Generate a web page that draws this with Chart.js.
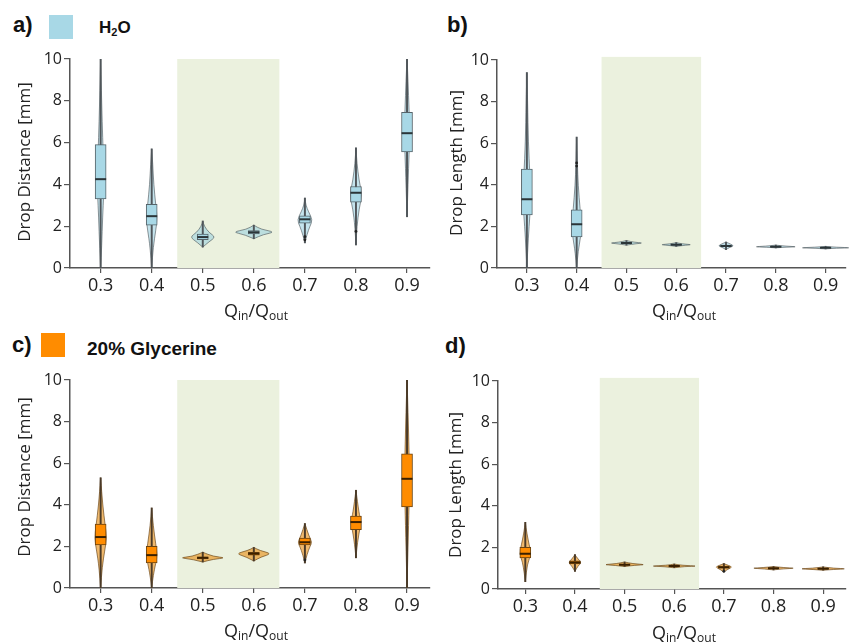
<!DOCTYPE html>
<html>
<head>
<meta charset="utf-8">
<script src="https://cdn.jsdelivr.net/npm/chart.js@4.4.1/dist/chart.umd.min.js"></script>
<style>
  body { margin: 0; background: #fff; }
  #wrap { position: relative; width: 853px; height: 644px; overflow: hidden; font-family: "Open Sans", sans-serif; color: #222; }
  canvas { position: absolute; }
  .lbl { position: absolute; font-family: "Liberation Sans", Arial, sans-serif; font-weight: bold; line-height: 1; white-space: nowrap; color: #111; }
  .swatch { position: absolute; width: 24px; height: 24px; }
  .ytitle { position: absolute; font-size: 17px; line-height: 1; white-space: nowrap; transform: translate(-50%, -50%) rotate(-90deg); }
  .xtitle { position: absolute; font-size: 18px; line-height: 1; white-space: nowrap; transform: translateX(-50%); }
  .xtitle sub { font-size: 12px; vertical-align: -3px; }
</style>
</head>
<body>
<div id="wrap">
  <canvas id="chartA" width="440" height="272" style="left:0;top:40px"></canvas>
  <canvas id="chartB" width="423" height="272" style="left:430px;top:40px"></canvas>
  <canvas id="chartC" width="440" height="284" style="left:0;top:360px"></canvas>
  <canvas id="chartD" width="423" height="284" style="left:430px;top:360px"></canvas>

  <div class="lbl" style="left:13px;top:14px;font-size:22px">a)</div>
  <div class="swatch" style="left:49px;top:15px;background:#a8d8e6"></div>
  <div class="lbl" style="left:99px;top:19px;font-size:17px">H<sub style="font-size:11px;vertical-align:-3px">2</sub>O</div>
  <div class="lbl" style="left:447px;top:14px;font-size:22px">b)</div>
  <div class="lbl" style="left:12px;top:334px;font-size:22px">c)</div>
  <div class="swatch" style="left:41px;top:333px;background:#ff8c00"></div>
  <div class="lbl" style="left:87px;top:339px;font-size:19px">20% Glycerine</div>
  <div class="lbl" style="left:445px;top:335px;font-size:22px">d)</div>

  <div class="ytitle" style="left:23px;top:162px">Drop Distance [mm]</div>
  <div class="ytitle" style="left:455px;top:163px">Drop Length [mm]</div>
  <div class="ytitle" style="left:23px;top:477px">Drop Distance [mm]</div>
  <div class="ytitle" style="left:454px;top:485px">Drop Length [mm]</div>

  <div class="xtitle" style="left:256px;top:301px">Q<sub>in</sub>/Q<sub>out</sub></div>
  <div class="xtitle" style="left:684px;top:301px">Q<sub>in</sub>/Q<sub>out</sub></div>
  <div class="xtitle" style="left:256px;top:621px">Q<sub>in</sub>/Q<sub>out</sub></div>
  <div class="xtitle" style="left:684px;top:623px">Q<sub>in</sub>/Q<sub>out</sub></div>
</div>

<script>
// flow ratio categories and axis ticks
const qValues = [0.3, 0.4, 0.5, 0.6, 0.7, 0.8, 0.9];
const qTickLabels = ['0.3', '0.4', '0.5', '0.6', '0.7', '0.8', '0.9'];
const yTickValues = [0, 2, 4, 6, 8, 10];
const shadedRange = [0.45, 0.65];

// a) H2O - drop distance [mm]
const h2oDistMin    = [0.0, 0.0, 1.0, 1.4, 1.2, 1.1, 2.45];
const h2oDistQ1     = [3.3, 2.05, 1.36, 1.63, 2.15, 3.15, 5.55];
const h2oDistMedian = [4.25, 2.48, 1.48, 1.71, 2.33, 3.6, 6.45];
const h2oDistQ3     = [5.9, 3.05, 1.62, 1.79, 2.5, 3.9, 7.45];
const h2oDistMax    = [10.0, 5.7, 2.25, 2.05, 3.35, 5.75, 10.0];
const h2oDistOutliers = [[0.7, 1.35], [0.7, 1.5], [0.8, 1.75]];
// violin outlines: [value, half width in Q units]
const h2oDistViolin = [
  [[0, 0], [1, 0.002], [2.5, 0.004], [3.5, 0.006], [4.3, 0.007], [5.5, 0.005], [7, 0.003], [8.5, 0.0015], [10, 0]],
  [[0, 0], [1, 0.003], [1.8, 0.008], [2.4, 0.011], [3, 0.008], [4, 0.004], [5, 0.002], [5.7, 0]],
  [[1.0, 0], [1.25, 0.012], [1.48, 0.025], [1.7, 0.012], [2.0, 0.003], [2.25, 0]],
  [[1.4, 0], [1.6, 0.018], [1.72, 0.042], [1.85, 0.014], [2.05, 0]],
  [[1.2, 0], [1.6, 0.004], [2.0, 0.01], [2.3, 0.015], [2.7, 0.007], [3.0, 0.002], [3.35, 0]],
  [[1.1, 0], [2, 0.002], [2.8, 0.006], [3.5, 0.012], [4.2, 0.006], [5, 0.002], [5.75, 0]],
  [[2.45, 0], [4, 0.002], [5.5, 0.004], [6.5, 0.006], [7.5, 0.004], [9, 0.002], [10, 0]]
];

// b) H2O - drop length [mm]
const h2oLenMin    = [0.0, 0.0, 1.1, 1.04, 0.88, 0.97, 0.92];
const h2oLenQ1     = [2.55, 1.5, 1.18, 1.1, 1.03, 1.0, 0.95];
const h2oLenMedian = [3.3, 2.1, 1.2, 1.12, 1.06, 1.02, 0.97];
const h2oLenQ3     = [4.75, 2.8, 1.22, 1.14, 1.1, 1.04, 0.99];
const h2oLenMax    = [9.4, 6.3, 1.32, 1.22, 1.25, 1.1, 1.04];
const h2oLenOutliers = [[0.4, 4.9], [0.4, 5.05]];
const h2oLenViolin = [
  [[0, 0], [1.5, 0.003], [2.5, 0.006], [3.3, 0.008], [4.5, 0.006], [6, 0.003], [8, 0.0015], [9.4, 0]],
  [[0, 0], [0.8, 0.003], [1.5, 0.008], [2.1, 0.01], [2.8, 0.007], [4, 0.003], [5, 0.0015], [6.3, 0]],
  [[1.1, 0], [1.17, 0.02], [1.2, 0.034], [1.24, 0.015], [1.32, 0]],
  [[1.04, 0], [1.1, 0.02], [1.12, 0.032], [1.16, 0.012], [1.22, 0]],
  [[0.88, 0], [0.98, 0.006], [1.06, 0.016], [1.14, 0.01], [1.25, 0]],
  [[0.97, 0], [1.0, 0.02], [1.02, 0.045], [1.05, 0.02], [1.1, 0]],
  [[0.92, 0], [0.95, 0.02], [0.97, 0.055], [1.0, 0.02], [1.04, 0]]
];

// c) 20% glycerine - drop distance [mm]
const glyDistMin    = [0.0, 0.0, 1.25, 1.3, 1.2, 1.45, 0.0];
const glyDistQ1     = [2.07, 1.2, 1.4, 1.58, 2.07, 2.8, 3.9];
const glyDistMedian = [2.45, 1.58, 1.45, 1.65, 2.2, 3.17, 5.25];
const glyDistQ3     = [3.07, 2.0, 1.5, 1.72, 2.4, 3.46, 6.45];
const glyDistMax    = [5.3, 3.85, 1.72, 1.95, 3.1, 4.7, 10.0];
const glyDistOutliers = [[0.7, 1.35]];
const glyDistViolin = [
  [[0, 0], [1, 0.003], [1.8, 0.008], [2.4, 0.012], [3, 0.009], [4, 0.004], [5.3, 0]],
  [[0, 0], [0.6, 0.003], [1.2, 0.008], [1.6, 0.011], [2.1, 0.008], [3, 0.003], [3.85, 0]],
  [[1.25, 0], [1.38, 0.02], [1.45, 0.046], [1.52, 0.02], [1.72, 0]],
  [[1.3, 0], [1.5, 0.015], [1.65, 0.035], [1.8, 0.012], [1.95, 0]],
  [[1.2, 0], [1.6, 0.004], [2.0, 0.01], [2.2, 0.014], [2.5, 0.008], [3.1, 0]],
  [[1.45, 0], [2.2, 0.003], [2.9, 0.008], [3.2, 0.01], [3.6, 0.006], [4.7, 0]],
  [[0, 0], [2, 0.002], [4, 0.004], [5.2, 0.005], [6.5, 0.004], [8.5, 0.002], [10, 0]]
];

// d) 20% glycerine - drop length [mm]
const glyLenMin    = [0.35, 0.85, 1.08, 1.02, 0.82, 0.92, 0.9];
const glyLenQ1     = [1.5, 1.2, 1.15, 1.08, 1.0, 0.98, 0.95];
const glyLenMedian = [1.7, 1.27, 1.17, 1.1, 1.05, 1.0, 0.97];
const glyLenQ3     = [2.0, 1.35, 1.2, 1.12, 1.1, 1.02, 0.99];
const glyLenMax    = [3.2, 1.65, 1.3, 1.2, 1.22, 1.08, 1.06];
const glyLenOutliers = [[0.7, 0.85]];
const glyLenViolin = [
  [[0.35, 0], [1.2, 0.004], [1.7, 0.012], [2.1, 0.008], [2.7, 0.003], [3.2, 0]],
  [[0.85, 0], [1.1, 0.006], [1.27, 0.013], [1.45, 0.006], [1.65, 0]],
  [[1.08, 0], [1.14, 0.02], [1.17, 0.044], [1.22, 0.015], [1.3, 0]],
  [[1.02, 0], [1.08, 0.02], [1.1, 0.05], [1.14, 0.015], [1.2, 0]],
  [[0.82, 0], [0.95, 0.008], [1.05, 0.017], [1.13, 0.01], [1.22, 0]],
  [[0.92, 0], [0.97, 0.02], [1.0, 0.046], [1.03, 0.02], [1.08, 0]],
  [[0.9, 0], [0.94, 0.02], [0.97, 0.05], [1.0, 0.02], [1.06, 0]]
];

const blueStyle = {
  box: '#a8d8e6', boxLine: '#56646a', median: '#2b3538',
  violin: 'rgba(150, 205, 222, 0.55)', violinLine: 'rgba(70, 80, 85, 0.6)', whisker: '#50565a'
};
const orangeStyle = {
  box: '#ff8c00', boxLine: '#6b4310', median: '#3a2000',
  violin: 'rgba(232, 148, 30, 0.65)', violinLine: 'rgba(100, 65, 20, 0.65)', whisker: '#4a3a28'
};

// shaded band + violin outlines, drawn underneath the datasets
const violinPlugin = {
  id: 'violins',
  beforeDatasetsDraw(chart, args, opts) {
    const { ctx, scales: { x, y } } = chart;
    ctx.save();
    ctx.fillStyle = '#ebf1de';
    const sx0 = x.getPixelForValue(shadedRange[0]);
    const sx1 = x.getPixelForValue(shadedRange[1]);
    const sy0 = y.getPixelForValue(opts.shadeTop);
    const sy1 = y.getPixelForValue(0);
    ctx.fillRect(sx0, sy0, sx1 - sx0, sy1 - sy0);

    ctx.fillStyle = opts.fill;
    ctx.strokeStyle = opts.stroke;
    ctx.lineWidth = 1;
    ctx.lineJoin = 'round';
    opts.profiles.forEach((prof, i) => {
      const c = qValues[i];
      const pts = [];
      prof.forEach(([v, w]) => pts.push([x.getPixelForValue(c - w), y.getPixelForValue(v)]));
      for (let k = prof.length - 1; k >= 0; k--) {
        const [v, w] = prof[k];
        pts.push([x.getPixelForValue(c + w), y.getPixelForValue(v)]);
      }
      ctx.beginPath();
      ctx.moveTo(pts[0][0], pts[0][1]);
      for (let k = 1; k < pts.length - 1; k++) {
        const mx = (pts[k][0] + pts[k + 1][0]) / 2;
        const my = (pts[k][1] + pts[k + 1][1]) / 2;
        ctx.quadraticCurveTo(pts[k][0], pts[k][1], mx, my);
      }
      ctx.lineTo(pts[pts.length - 1][0], pts[pts.length - 1][1]);
      ctx.closePath();
      ctx.fill();
      ctx.stroke();
    });
    ctx.restore();
  }
};

function makePanel(id, p) {
  const st = p.style;
  const ctx = document.getElementById(id).getContext('2d');
  return new Chart(ctx, {
    type: 'bar',
    data: {
      datasets: [
        {
          label: 'whisker',
          data: qValues.map((q, i) => ({ x: q, y: [p.min[i], p.max[i]] })),
          backgroundColor: st.whisker,
          borderWidth: 0,
          barThickness: 1.3,
          grouped: false,
          order: 4
        },
        {
          label: 'box',
          data: qValues.map((q, i) => ({ x: q, y: [p.q1[i], p.q3[i]] })),
          backgroundColor: st.box,
          borderColor: st.boxLine,
          borderWidth: 1,
          borderSkipped: false,
          barThickness: 11,
          grouped: false,
          order: 3
        },
        {
          type: 'scatter',
          label: 'median',
          data: qValues.map((q, i) => ({ x: q, y: p.median[i] })),
          pointStyle: 'line',
          pointRadius: 5.5,
          borderWidth: 2,
          borderColor: st.median,
          order: 2
        },
        {
          type: 'scatter',
          label: 'outliers',
          data: p.outliers.map(([q, v]) => ({ x: q, y: v })),
          pointRadius: 1.4,
          backgroundColor: '#222',
          borderWidth: 0,
          order: 1
        }
      ]
    },
    options: {
      responsive: false,
      animation: false,
      devicePixelRatio: 1,
      layout: { padding: p.padding },
      plugins: {
        legend: { display: false },
        tooltip: { enabled: false },
        violins: { profiles: p.violin, fill: st.violin, stroke: st.violinLine, shadeTop: p.shadeTop }
      },
      scales: {
        x: {
          type: 'linear',
          min: p.xMin,
          max: p.xMax,
          offset: false,
          afterBuildTicks: (s) => { s.ticks = qValues.map(v => ({ value: v })); },
          afterFit: (s) => { s.height = 44; },
          ticks: {
            callback: (v) => qTickLabels[qValues.indexOf(Math.round(v * 10) / 10)],
            font: { family: 'Open Sans', size: 18 },
            color: '#222',
            padding: 2,
            maxRotation: 0
          },
          grid: { drawOnChartArea: false, offset: false, tickLength: 5, color: '#555', lineWidth: 1.2 },
          border: { color: '#555', width: 1.5 }
        },
        y: {
          min: 0,
          max: 10,
          afterBuildTicks: (s) => { s.ticks = yTickValues.map(v => ({ value: v })); },
          afterFit: (s) => { s.width = p.yWidth; },
          ticks: {
            font: { family: 'Open Sans', size: 16 },
            color: '#222',
            padding: 2
          },
          grid: { drawOnChartArea: false, tickLength: 6, color: '#555', lineWidth: 1.2 },
          border: { color: '#555', width: 1.5 }
        }
      }
    },
    plugins: [violinPlugin]
  });
}

makePanel('chartA', {
  style: blueStyle, min: h2oDistMin, q1: h2oDistQ1, median: h2oDistMedian, q3: h2oDistQ3, max: h2oDistMax,
  outliers: h2oDistOutliers, violin: h2oDistViolin,
  xMin: 0.24, xMax: 0.945, yWidth: 70, shadeTop: 10,
  padding: { left: 0, right: 10, top: 19, bottom: 0 }
});
makePanel('chartB', {
  style: blueStyle, min: h2oLenMin, q1: h2oLenQ1, median: h2oLenMedian, q3: h2oLenQ3, max: h2oLenMax,
  outliers: h2oLenOutliers, violin: h2oLenViolin,
  xMin: 0.24, xMax: 0.94, yWidth: 67, shadeTop: 10.15,
  padding: { left: 0, right: 0, top: 20, bottom: 0 }
});
makePanel('chartC', {
  style: orangeStyle, min: glyDistMin, q1: glyDistQ1, median: glyDistMedian, q3: glyDistQ3, max: glyDistMax,
  outliers: glyDistOutliers, violin: glyDistViolin,
  xMin: 0.24, xMax: 0.945, yWidth: 70, shadeTop: 10,
  padding: { left: 0, right: 10, top: 20, bottom: 12 }
});
makePanel('chartD', {
  style: orangeStyle, min: glyLenMin, q1: glyLenQ1, median: glyLenMedian, q3: glyLenQ3, max: glyLenMax,
  outliers: glyLenOutliers, violin: glyLenViolin,
  xMin: 0.245, xMax: 0.945, yWidth: 68, shadeTop: 10.15,
  padding: { left: 0, right: 0, top: 21, bottom: 11 }
});
</script>
</body>
</html>
